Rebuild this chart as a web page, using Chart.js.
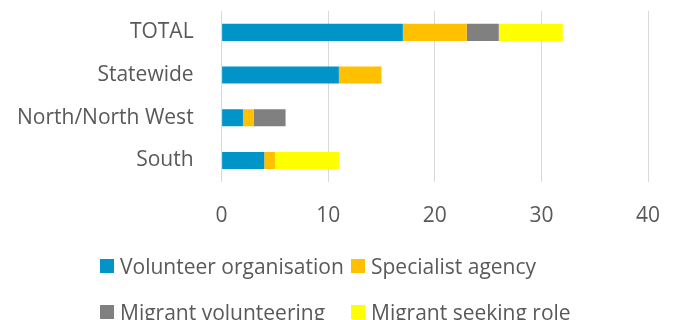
<!DOCTYPE html>
<html>
<head>
<meta charset="utf-8">
<script src="https://cdn.jsdelivr.net/npm/chart.js@4"></script>
<style>
  html, body { margin: 0; padding: 0; background: #fff; overflow: hidden; }
  #wrap { position: relative; width: 675px; height: 320px; }
  #c { position: absolute; left: 0; top: 0; }
  .lg { position: absolute; font-family: "Open Sans", sans-serif; font-size: 21px; color: #595959; white-space: nowrap; line-height: 21px; }
  .lg .box { position: absolute; left: 0; top: 0; width: 14px; height: 14px; }
  .lg .txt { position: absolute; left: 20px; top: -11px; line-height: 36px; }
</style>
</head>
<body>
<div id="wrap">
  <canvas id="c" width="675" height="320"></canvas>
</div>
<script>
const categories = ["TOTAL", "Statewide", "North/North West", "South"];
const seriesNames = ["Volunteer organisation", "Specialist agency", "Migrant volunteering", "Migrant seeking role"];
const volunteerOrganisation = [17, 11, 2, 4];
const specialistAgency = [6, 4, 1, 1];
const migrantVolunteering = [3, 0, 3, 0];
const migrantSeekingRole = [6, 0, 0, 6];
const xTicks = [0, 10, 20, 30, 40];
const colors = ["#0094C8", "#FFC000", "#808080", "#FFFF00"];

const seriesValues = [volunteerOrganisation, specialistAgency, migrantVolunteering, migrantSeekingRole];
const FONT = "'Open Sans', sans-serif";

const chart = new Chart(document.getElementById('c'), {
  type: 'bar',
  data: {
    labels: categories,
    datasets: seriesNames.map((n, i) => ({
      label: n,
      data: seriesValues[i],
      backgroundColor: colors[i],
      borderWidth: 0,
      categoryPercentage: 1,
      barPercentage: 0.4
    }))
  },
  options: {
    indexAxis: 'y',
    responsive: false,
    animation: false,
    layout: { padding: { left: 17, right: 27, top: 11, bottom: 91 } },
    plugins: { legend: { display: false }, tooltip: { enabled: false } },
    scales: {
      x: {
        stacked: true,
        min: xTicks[0],
        max: xTicks[xTicks.length - 1],
        afterBuildTicks: (s) => { s.ticks = xTicks.map(v => ({ value: v })); },
        grid: { color: '#D9D9D9', lineWidth: 1, drawTicks: true, tickLength: 22, tickColor: 'rgba(0,0,0,0)' },
        border: { display: false },
        ticks: { color: '#595959', font: { family: FONT, size: 21 }, padding: 0, maxRotation: 0 }
      },
      y: {
        stacked: true,
        grid: { display: false, drawTicks: true, tickLength: 28, tickColor: 'rgba(0,0,0,0)' },
        border: { display: false },
        ticks: { color: '#595959', font: { family: FONT, size: 21, lineHeight: 0.9 }, padding: 0 }
      }
    }
  }
});

// HTML legend built from the chart's datasets
const wrap = document.getElementById('wrap');
const legendPos = [[100, 259], [351, 259], [100, 305], [351, 305]];
chart.data.datasets.forEach((ds, i) => {
  const item = document.createElement('div');
  item.className = 'lg';
  item.style.left = legendPos[i][0] + 'px';
  item.style.top = legendPos[i][1] + 'px';
  const box = document.createElement('span');
  box.className = 'box';
  box.style.background = ds.backgroundColor;
  const txt = document.createElement('span');
  txt.className = 'txt';
  txt.textContent = ds.label;
  item.appendChild(box);
  item.appendChild(txt);
  wrap.appendChild(item);
});
</script>
</body>
</html>
